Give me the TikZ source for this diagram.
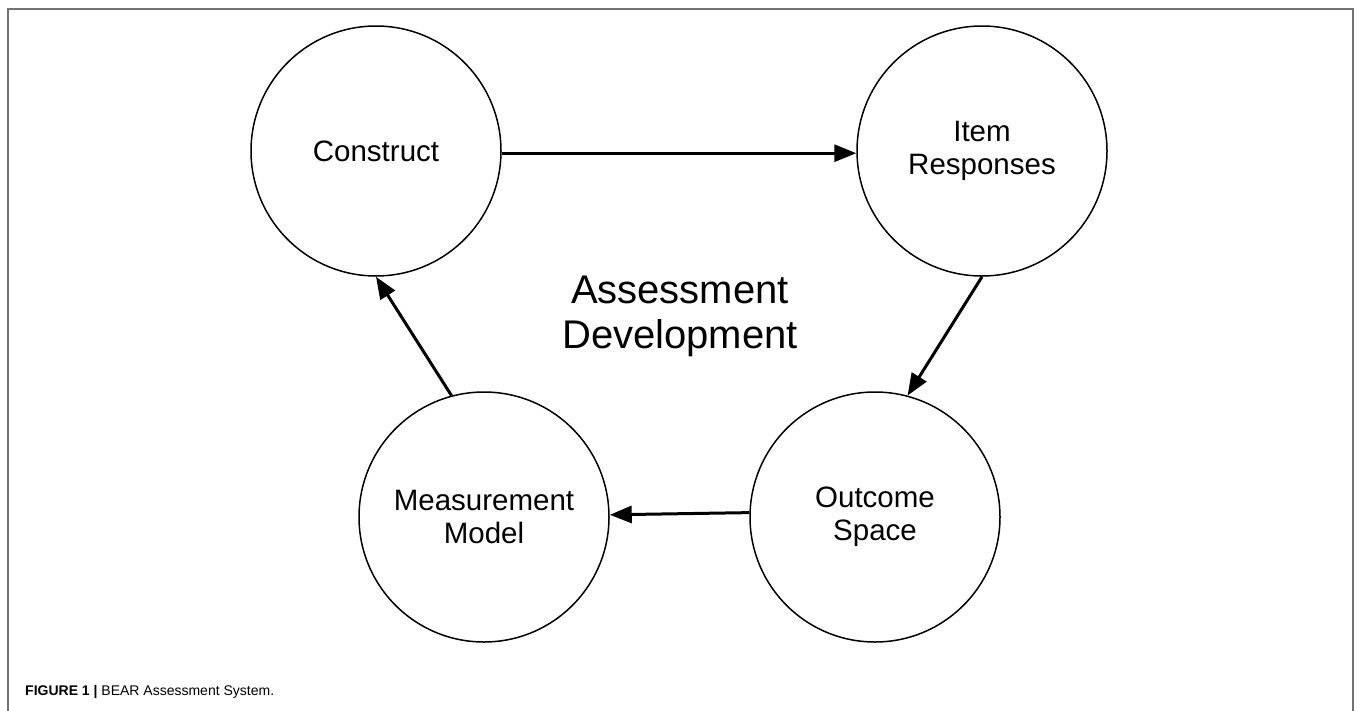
\documentclass[tikz,border=0pt]{standalone}
\usepackage{fontspec}
\setmainfont{Liberation Sans}
\usetikzlibrary{arrows.meta}
\tikzset{
  stage/.style={draw=black, circle, line width=1.5pt, minimum size=250pt, inner sep=0pt, align=center,
    font=\fontsize{29.5}{33}\selectfont},
  flow/.style={line width=3pt, -{Triangle[length=22pt,width=17pt]}},
  frame/.style={draw=black!55, line width=1.6pt},
}
\begin{document}
\begin{tikzpicture}[x=1pt,y=-1pt]
\useasboundingbox (0,0) rectangle (1358,710);
\draw[frame] (8,712) -- (8,9) -- (1353,9) -- (1353,712);
\node[stage] (C) at (376,151) {Construct};
\node[stage] (I) at (982,151) {Item\\Responses};
\node[stage] (O) at (875,517) {Outcome\\Space};
\node[stage] (M) at (484,517) {Measurement\\Model};
\node[align=center, font=\fontsize{40}{45}\selectfont] (AD) at (680,316) {Assessment\\Development};
\draw[flow] (C.-1.4) -- (I.181.4);
\draw[flow] (I.south) -- (O.75);
\draw[flow] (O.178.2) -- (M.1.8);
\draw[flow] (M.105) -- (C.south);
\node[anchor=base west, inner sep=0pt, font=\fontsize{14}{16}\selectfont] (cap) at (25,695) {\textbf{FIGURE 1 |} BEAR Assessment System.};
\end{tikzpicture}
\end{document}
